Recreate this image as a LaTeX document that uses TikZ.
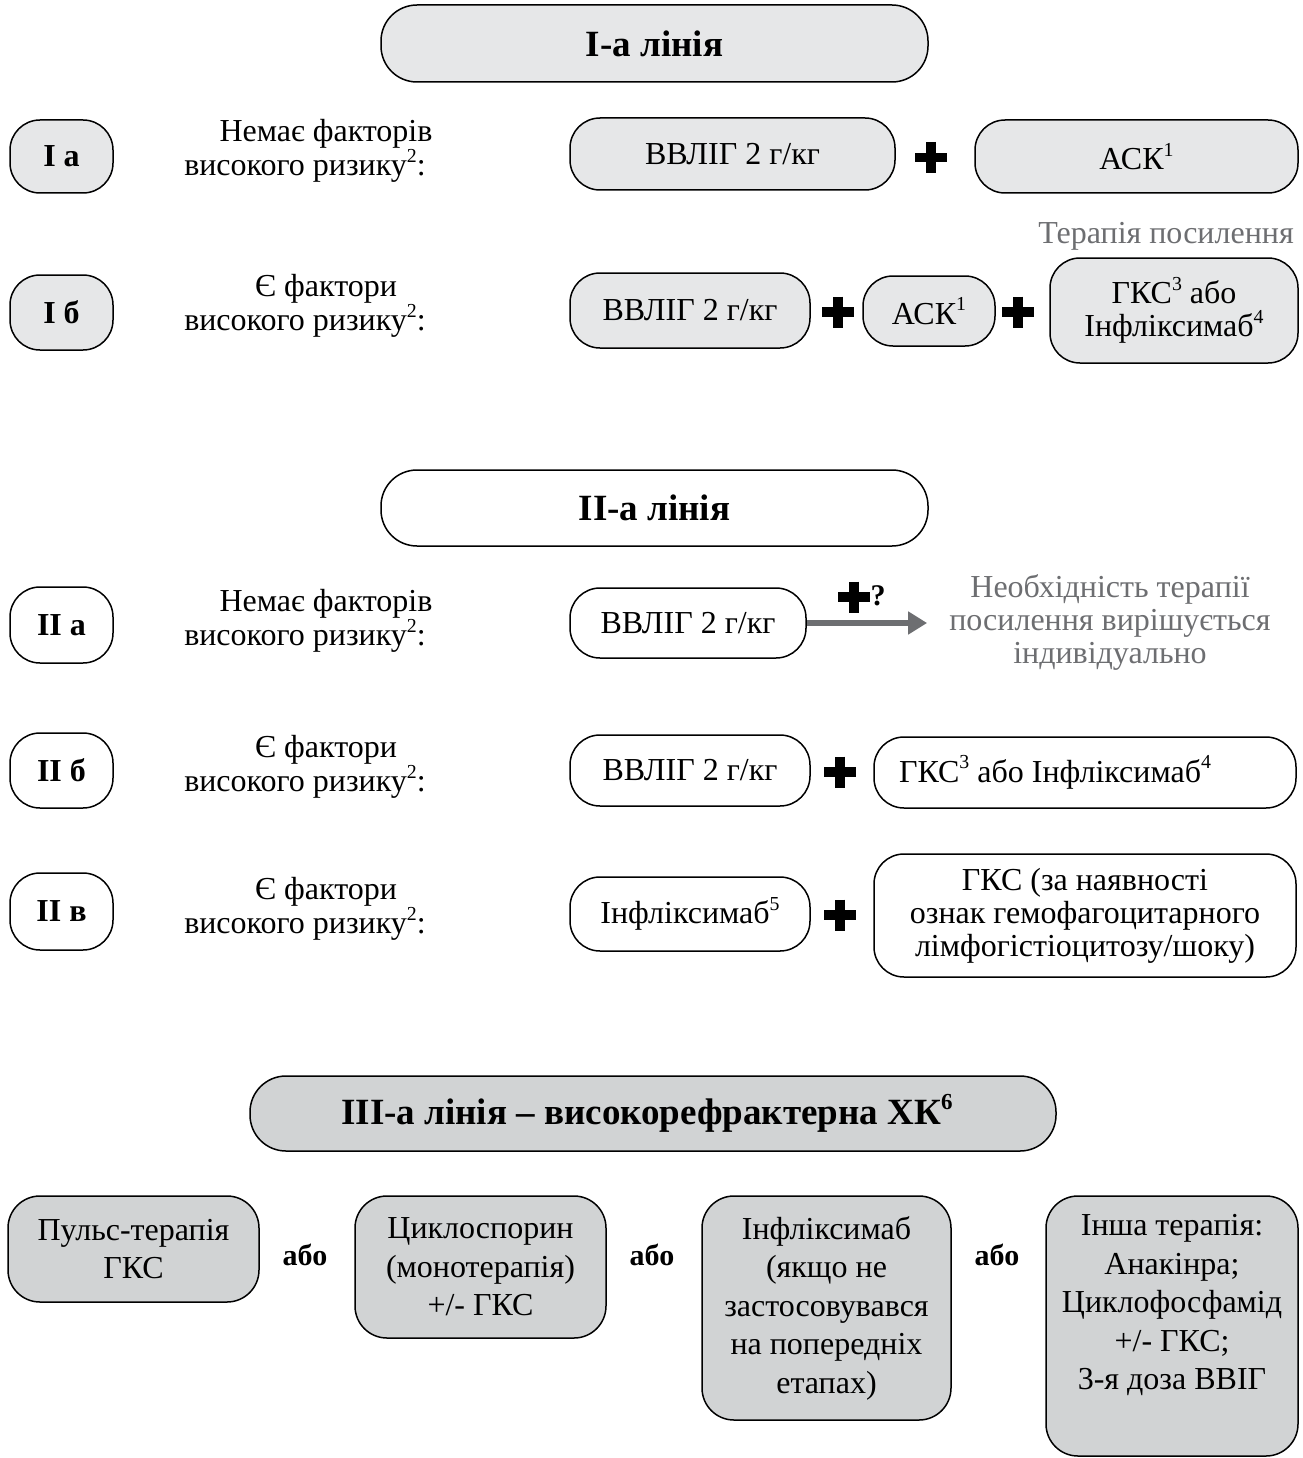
\documentclass[tikz,border=0pt]{standalone}
\usepackage{fontspec}
\setmainfont{Liberation Serif}
\usetikzlibrary{arrows.meta}
\definecolor{fillA}{HTML}{E6E7E8}
\definecolor{fillC}{HTML}{D1D3D4}
\definecolor{txtgray}{HTML}{6D6E71}
\newcommand\supnum[1]{\raisebox{0.42em}{\fontsize{0.62em}{0.62em}\selectfont #1}}
\begin{document}
\begin{tikzpicture}[x=1pt,y=-1pt,
  font=\fontsize{32}{33}\selectfont,
  box/.style={draw, line width=1.5pt, rounded corners=30pt, align=center, inner sep=0pt},
  hdr/.style={box, rounded corners=36pt, font=\fontsize{37}{38}\selectfont\bfseries},
  tag/.style={box, rounded corners=30pt, font=\fontsize{32}{33}\selectfont\bfseries},
  risk/.style={align=center, inner sep=0pt},
  bot/.style={box, rounded corners=32pt, font=\fontsize{32}{38.5}\selectfont},
  orlbl/.style={inner sep=0pt, font=\fontsize{30}{32}\selectfont\bfseries},
  note/.style={align=center, inner sep=0pt, text=txtgray},
  plussign/.pic={\draw[line width=9.5pt] (-16,0) -- (16,0) (0,-15.5) -- (0,15.5);},
  grayarrow/.style={draw=txtgray, line width=6.5pt, -{Triangle[length=19pt,width=22pt]}}
]
\useasboundingbox (0,0) rectangle (1302,1458);

% ---------- Line I ----------
\node[hdr, fill=fillA, minimum width=547pt, minimum height=77pt] (h1) at (654.5,43.5) {I-а лінія};

\node[tag, fill=fillA, minimum width=103pt, minimum height=73pt] (ia) at (61.5,156.5) {I а};
\node[risk] (ria) at (305,151) {\hspace*{42pt}Немає факторів\\високого ризику\supnum{2}:};
\node[box, fill=fillA, minimum width=325pt, minimum height=72pt] (v1a) at (732.5,154) {ВВЛІГ 2 г/кг};
\pic at (931,157.5) {plussign};
\node[box, fill=fillA, minimum width=323pt, minimum height=73pt] (a1a) at (1136.5,156.5) {АСК\supnum{1}};

\node[tag, fill=fillA, minimum width=103pt, minimum height=75pt] (ib) at (61.5,312.5) {I б};
\node[risk] (rib) at (305,306) {\hspace*{42pt}Є фактори\\високого ризику\supnum{2}:};
\node[box, fill=fillA, minimum width=240pt, minimum height=75pt] (v1b) at (690,310.5) {ВВЛІГ 2 г/кг};
\pic at (838,312) {plussign};
\node[box, fill=fillA, minimum width=132pt, minimum height=70pt] (a1b) at (929,311) {АСК\supnum{1}};
\pic at (1018,312) {plussign};
\node[box, fill=fillA, minimum width=248pt, minimum height=105pt] (g1b) at (1174,310.5) {ГКС\supnum{3} або\\Інфліксимаб\supnum{4}};
\node[note] (tp) at (1166,236) {Терапія посилення};

% ---------- Line II ----------
\node[hdr, fill=white, minimum width=547pt, minimum height=76pt] (h2) at (654.5,508) {II-а лінія};

\node[tag, minimum width=103pt, minimum height=76pt] (iia) at (61.5,625) {II а};
\node[risk] (riia) at (305,621) {\hspace*{42pt}Немає факторів\\високого ризику\supnum{2}:};
\node[box, minimum width=236pt, minimum height=70pt] (v2a) at (688,623) {ВВЛІГ 2 г/кг};
\node[note] (n2a) at (1110,622) {Необхідність терапії\\посилення вирішується\\індивідуально};
\draw[grayarrow, shorten >=22pt] (v2a.east) -- (v2a.east -| n2a.west);
\pic at (854,597) {plussign};
\node[inner sep=0pt, font=\fontsize{30}{30}\selectfont\bfseries] (q2a) at (878,596) {?};

\node[tag, minimum width=103pt, minimum height=75pt] (iib) at (61.5,770.5) {II б};
\node[risk] (riib) at (305,767) {\hspace*{42pt}Є фактори\\високого ризику\supnum{2}:};
\node[box, minimum width=240pt, minimum height=71pt] (v2b) at (690,770.5) {ВВЛІГ 2 г/кг};
\pic at (840,772) {plussign};
\node[box, minimum width=422pt, minimum height=71pt] (g2b) at (1085,772.5) {ГКС\supnum{3} або Інфліксимаб\supnum{4}\hspace*{60pt}};

\node[tag, minimum width=103pt, minimum height=77pt] (iiv) at (61.5,911.5) {II в};
\node[risk] (riiv) at (305,909) {\hspace*{42pt}Є фактори\\високого ризику\supnum{2}:};
\node[box, minimum width=240pt, minimum height=74pt] (i2v) at (690,914) {Інфліксимаб\supnum{5}};
\pic at (840,915) {plussign};
\node[box, minimum width=422pt, minimum height=123pt] (g2v) at (1085,915.5) {ГКС (за наявності\\ознак гемофагоцитарного\\лімфогістіоцитозу/шоку)};

% ---------- Line III ----------
\node[hdr, fill=fillC, minimum width=806pt, minimum height=75pt] (h3) at (653,1113.5) {\hspace*{-12pt}III-а лінія – високорефрактерна ХК\supnum{6}};

\node[bot, fill=fillC, minimum width=251pt, minimum height=106pt] (b1) at (133.5,1249) {Пульс-терапія\\ГКС};
\node[orlbl] (or1) at (305,1255) {або};
\node[bot, fill=fillC, minimum width=251pt, minimum height=142pt] (b2) at (480.5,1267) {Циклоспорин\\(монотерапія)\\+/- ГКС};
\node[orlbl] (or2) at (652,1255) {або};
\node[bot, fill=fillC, minimum width=249pt, minimum height=224pt] (b3) at (826.5,1308) {Інфліксимаб\\(якщо не\\застосовувався\\на попередніх\\етапах)};
\node[orlbl] (or3) at (997,1255) {або};
\node[bot, fill=fillC, minimum width=252pt, minimum height=260pt] (b4) at (1172,1326) {};
\node[align=center, inner sep=0pt, font=\fontsize{32}{38.5}\selectfont] (b4t) at (1172,1305) {Інша терапія:\\Анакінра;\\Циклофосфамід\\+/- ГКС;\\3-я доза ВВІГ};
\end{tikzpicture}
\end{document}
